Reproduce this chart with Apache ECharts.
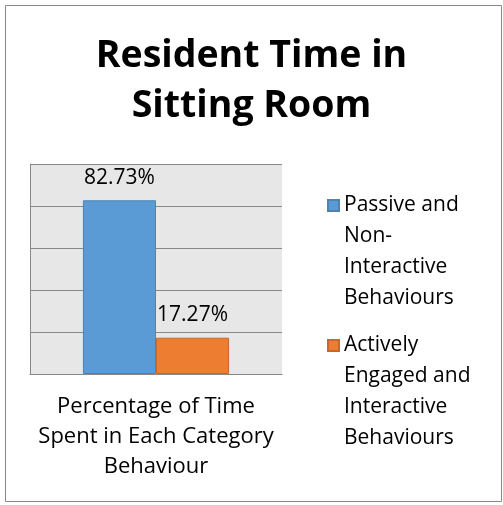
<!DOCTYPE html>
<html>
<head>
<meta charset="utf-8">
<script src="https://cdn.jsdelivr.net/npm/echarts@6/dist/echarts.min.js"></script>
<style>
  html, body { margin: 0; padding: 0; background: #fff; }
  #chart { width: 503px; height: 505px; }
</style>
</head>
<body>
<div id="chart"></div>
<script>
// chart data
var categories = ['Percentage of Time\nSpent in Each Category\nBehaviour'];
var seriesNames = ['Passive and\nNon-\nInteractive\nBehaviours', 'Actively\nEngaged and\nInteractive\nBehaviours'];
var passiveValues = [82.73];
var activeValues = [17.27];
var seriesColors = ['#5b9bd5', '#ed7d31'];

var FONT = 'Open Sans';

// legend square sits beside the first text line: the path is as tall as the
// 4-line text block and the square is drawn near its top
var legendIcon = 'path://M0,0L0,0M0,10L11,10L11,21L0,21ZM0,124L0,124';

var myChart = echarts.init(document.getElementById('chart'));

function labelFmt(p) {
    return p.value.toFixed(2) + '%';
}

var option = {
    animation: false,
    backgroundColor: '#fff',
    title: {
        text: 'Resident Time in\nSitting Room',
        left: 'center',
        top: 26,
        textStyle: {
            fontFamily: FONT,
            fontWeight: 'bold',
            fontSize: 37.5,
            lineHeight: 50,
            color: '#000'
        }
    },
    legend: {
        orient: 'vertical',
        left: 322,
        top: 184,
        itemWidth: 11,
        itemHeight: 124,
        itemGap: 14,
        icon: legendIcon,
        selectedMode: false,
        data: seriesNames,
        textStyle: {
            fontFamily: FONT,
            fontSize: 21,
            lineHeight: 31,
            color: '#000'
        }
    },
    grid: {
        left: 30,
        right: 221,
        top: 164,
        bottom: 131,
        show: true,
        backgroundColor: '#e7e7e7',
        borderWidth: 0
    },
    xAxis: {
        type: 'category',
        data: categories,
        axisTick: { show: false },
        axisLine: { lineStyle: { color: '#888', width: 1 } },
        axisLabel: {
            margin: 18,
            fontFamily: FONT,
            fontSize: 22,
            lineHeight: 30,
            color: '#000'
        }
    },
    yAxis: {
        type: 'value',
        min: 0,
        max: 100,
        interval: 20,
        axisLabel: { show: false },
        axisTick: { show: false },
        axisLine: { show: true, lineStyle: { color: '#888', width: 1 } },
        splitLine: { lineStyle: { color: '#888', width: 1 } }
    },
    series: [
        {
            name: seriesNames[0],
            type: 'bar',
            data: passiveValues,
            barGap: '0%',
            barCategoryGap: '42%',
            itemStyle: { color: seriesColors[0], borderColor: '#4a83b8', borderWidth: 1 },
            label: {
                show: true,
                position: 'top',
                distance: 12,
                formatter: labelFmt,
                fontFamily: FONT,
                fontSize: 21,
                color: '#000'
            }
        },
        {
            name: seriesNames[1],
            type: 'bar',
            data: activeValues,
            barGap: '0%',
            barCategoryGap: '42%',
            itemStyle: { color: seriesColors[1], borderColor: '#c9672a', borderWidth: 1 },
            label: {
                show: true,
                position: 'top',
                distance: 12,
                formatter: labelFmt,
                fontFamily: FONT,
                fontSize: 21,
                color: '#000'
            }
        }
    ],
    graphic: [
        {
            type: 'rect',
            left: 3,
            top: 3,
            shape: { width: 496, height: 496 },
            style: { fill: 'none', stroke: '#888', lineWidth: 1 },
            silent: true
        }
    ]
};

myChart.setOption(option);
</script>
</body>
</html>
